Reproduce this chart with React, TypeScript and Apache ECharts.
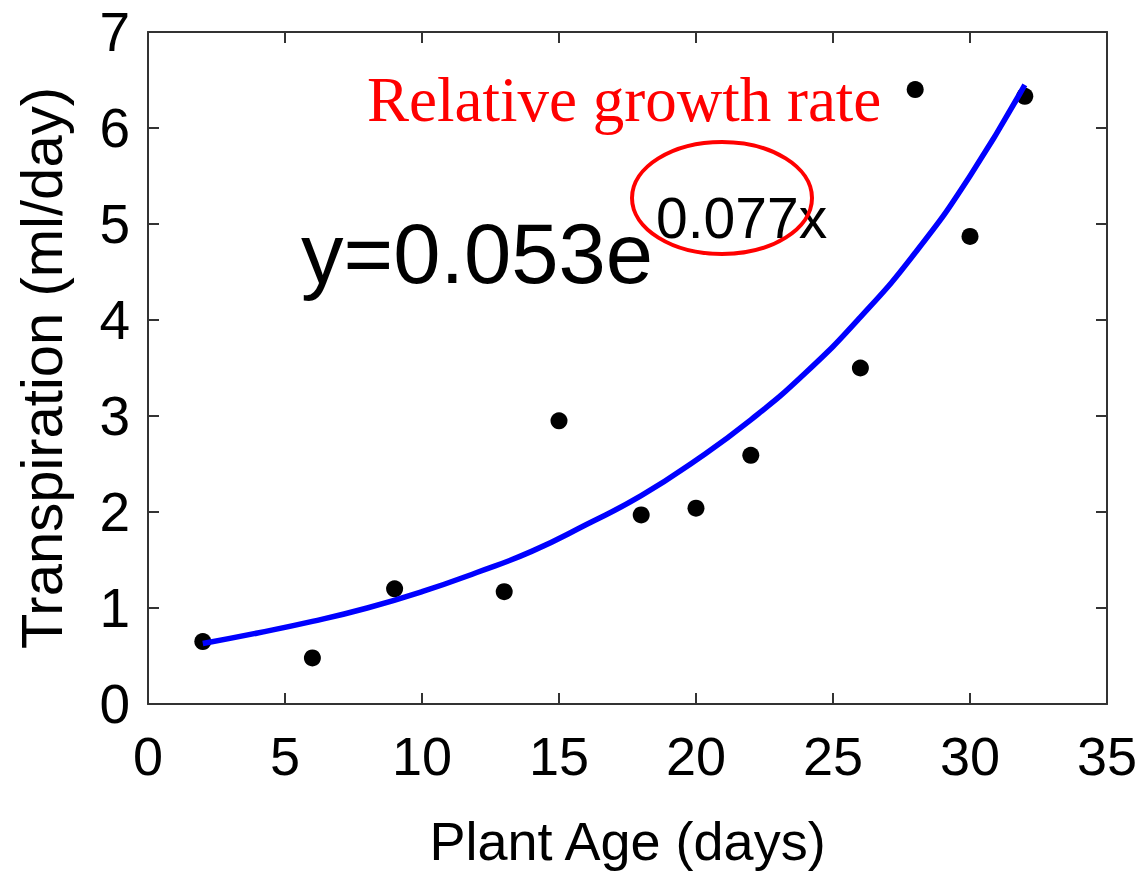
import React, { useEffect, useRef } from "react";
import * as echarts from "echarts";

// Measured points
const plantAge = [2, 6, 9, 13, 15, 18, 20, 22, 26, 28, 30, 32];
const transpiration = [0.65, 0.48, 1.2, 1.17, 2.95, 1.97, 2.04, 2.59, 3.5, 6.4, 4.87, 6.33];

// Fitted curve
const fitAge = [2, 4, 6, 8, 10, 12, 14, 16, 18, 20, 22, 24, 26, 28, 30, 32];
const fitValue = [0.63, 0.74, 0.86, 1.0, 1.17, 1.37, 1.59, 1.87, 2.17, 2.54, 2.96, 3.45, 4.03, 4.7, 5.5, 6.45];

const xTitle = "Plant Age (days)";
const yTitle = "Transpiration (ml/day)";
const equationMain = "y=0.053e";
const equationExp = "0.077x";
const annotation = "Relative growth rate";

const SANS = "'Liberation Sans', Arial, Helvetica, sans-serif";
const SERIF = "'Liberation Serif', 'Times New Roman', serif";
const FRAME = "#333333";

export default function App() {
  const ref = useRef<HTMLDivElement>(null);
  useEffect(() => {
    if (!ref.current) return;
    const chart = echarts.init(ref.current, undefined, { renderer: "svg" });
    const lineStyle = { color: FRAME, width: 2 };
    const tick = { show: true, inside: true, length: 11, lineStyle };
    chart.setOption({
      animation: false,
      backgroundColor: "#ffffff",
      grid: { left: 148, top: 32, right: 36, bottom: 169, containLabel: false },
      xAxis: [
        {
          type: "value",
          min: 0,
          max: 35,
          interval: 5,
          position: "bottom",
          axisLine: { show: true, onZero: false, lineStyle },
          axisTick: tick,
          splitLine: { show: false },
          axisLabel: { fontSize: 54, color: "#000", margin: 25, fontFamily: SANS },
          name: xTitle,
          nameLocation: "middle",
          nameGap: 110,
          nameTextStyle: { fontSize: 54, color: "#000", fontFamily: SANS },
        },
        {
          type: "value",
          min: 0,
          max: 35,
          interval: 5,
          position: "top",
          axisLine: { show: true, onZero: false, lineStyle },
          axisTick: tick,
          splitLine: { show: false },
          axisLabel: { show: false },
        },
      ],
      yAxis: [
        {
          type: "value",
          min: 0,
          max: 7,
          interval: 1,
          position: "left",
          axisLine: { show: true, onZero: false, lineStyle },
          axisTick: tick,
          splitLine: { show: false },
          axisLabel: { fontSize: 55, color: "#000", margin: 18, fontFamily: SANS },
          name: yTitle,
          nameLocation: "middle",
          nameGap: 78,
          nameTextStyle: { fontSize: 58, color: "#000", fontFamily: SANS },
        },
        {
          type: "value",
          min: 0,
          max: 7,
          interval: 1,
          position: "right",
          axisLine: { show: true, onZero: false, lineStyle },
          axisTick: tick,
          splitLine: { show: false },
          axisLabel: { show: false },
        },
      ],
      series: [
        {
          type: "scatter",
          xAxisIndex: 0,
          yAxisIndex: 0,
          data: plantAge.map((a, i) => [a, transpiration[i]]),
          symbol: "circle",
          symbolSize: 17,
          itemStyle: { color: "#000", opacity: 1 },
          z: 2,
        },
        {
          type: "line",
          xAxisIndex: 0,
          yAxisIndex: 0,
          data: fitAge.map((a, i) => [a, fitValue[i]]),
          smooth: true,
          showSymbol: false,
          lineStyle: { color: "#0000ff", width: 5.5 },
          z: 3,
        },
      ],
      graphic: [
        {
          type: "text",
          x: 367,
          y: 100,
          style: {
            text: annotation,
            fill: "#ff0000",
            font: `63px ${SERIF}`,
            verticalAlign: "middle",
          },
        },
        {
          type: "text",
          x: 301,
          y: 253,
          style: {
            text: equationMain,
            fill: "#000",
            font: `85px ${SANS}`,
            verticalAlign: "middle",
          },
        },
        {
          type: "text",
          x: 656,
          y: 218,
          style: {
            text: equationExp,
            fill: "#000",
            font: `57px ${SANS}`,
            verticalAlign: "middle",
          },
        },
        {
          type: "ellipse",
          shape: { cx: 722, cy: 198, rx: 90, ry: 56 },
          style: { fill: "none", stroke: "#ff0000", lineWidth: 4 },
          z: 10,
        },
      ],
    });
    return () => chart.dispose();
  }, []);
  return (
    <div
      ref={ref}
      style={{ position: "absolute", left: 0, top: 0, width: 1143, height: 873, background: "#fff" }}
    />
  );
}
